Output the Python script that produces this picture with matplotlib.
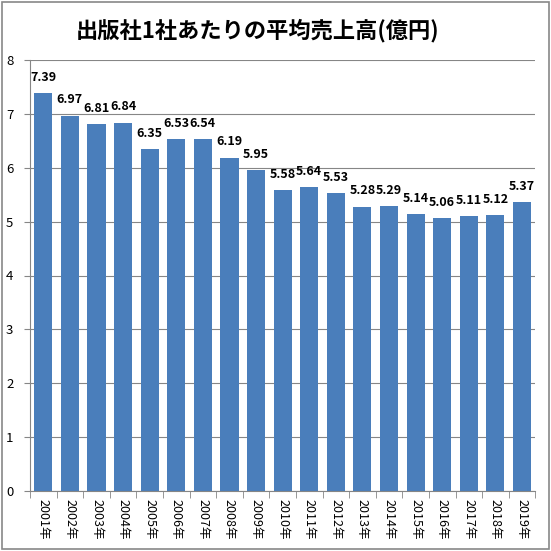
import matplotlib
matplotlib.use("Agg")
import matplotlib.pyplot as plt
from matplotlib.patches import Rectangle

plt.rcParams['font.family'] = ['Noto Sans CJK JP', 'DejaVu Sans']

years = [f"{y}年" for y in range(2001, 2020)]
values = [7.39, 6.97, 6.81, 6.84, 6.35, 6.53, 6.54, 6.19, 5.95, 5.58,
          5.64, 5.53, 5.28, 5.29, 5.14, 5.06, 5.11, 5.12, 5.37]
yticks = [0, 1, 2, 3, 4, 5, 6, 7, 8]

fig = plt.figure(figsize=(5.51, 5.51), dpi=100)
fig.patches.append(Rectangle((0.004, 0.004), 0.992, 0.992, transform=fig.transFigure,
                             fill=False, edgecolor='#888888', linewidth=1.2))

ax = fig.add_axes([0.0545, 0.109, 0.917, 0.782])
x = list(range(len(years)))
ax.bar(x, values, width=0.68, color='#4A7EBB', zorder=2)

for xi, v in zip(x, values):
    ax.text(xi, v + 0.17, f"{v:.2f}", ha='center', va='bottom',
            fontsize=9, fontweight='bold')

ax.set_xlim(-0.5, len(years) - 0.5)
ax.set_ylim(0, 8)
ax.set_yticks(yticks)
ax.set_yticklabels([str(t) for t in yticks], fontsize=9.5)
ax.yaxis.grid(True, color='#868686', linewidth=0.8, zorder=0)
ax.set_axisbelow(True)

ax.set_xticks(x)
ax.set_xticklabels(years, rotation=270, fontsize=9)
ax.tick_params(axis='x', length=0, pad=6)
ax.set_xticks([i - 0.5 for i in range(len(years) + 1)], minor=True)
ax.tick_params(axis='x', which='minor', length=5, color='#868686')
ax.tick_params(axis='y', length=4, color='#868686', pad=8)

for s in ['top', 'right']:
    ax.spines[s].set_visible(False)
for s in ['left', 'bottom']:
    ax.spines[s].set_color('#868686')

fig.text(0.468, 0.945, "出版社1社あたりの平均売上高(億円)", ha='center', va='center',
         fontsize=16, fontweight='bold')

fig.savefig("out.png", dpi=100)
